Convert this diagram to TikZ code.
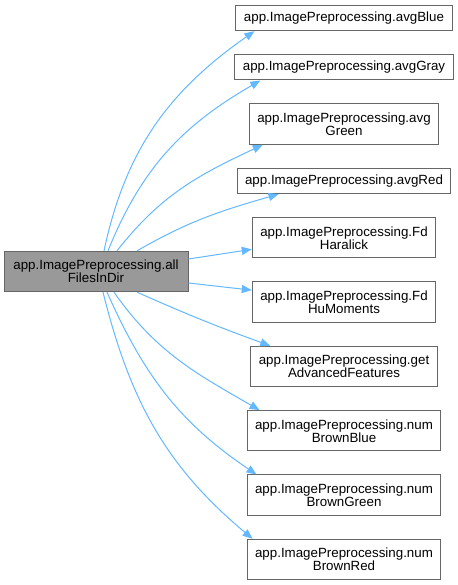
\documentclass[tikz,border=0pt]{standalone}
\usepackage{fontspec}
\setmainfont{Liberation Sans}
\usepackage{xcolor}
\usepackage{tikz}
\usetikzlibrary{positioning,arrows.meta,calc}

\definecolor{edgeblue}{HTML}{63B8FF}
\definecolor{boxline}{HTML}{666666}
\definecolor{curfill}{HTML}{999999}

\begin{document}
\begin{tikzpicture}[
      x=0.75pt, y=0.75pt,
      node distance=17.25pt,
      box/.style={rectangle, draw=boxline, fill=white, line width=0.75pt, align=center, inner xsep=6pt, inner ysep=2pt, minimum height=19pt, font=\fontsize{10}{9.75}\selectfont},
      twoline/.style={box, minimum height=30.25pt},
      arrow/.style={-{Triangle[length=7.5pt,width=6pt]}, draw=edgeblue, fill=none, line width=0.75pt}
  ]
  \useasboundingbox (0,0) rectangle (457,585);
  % Nodes
  \node[twoline, fill=curfill, minimum width=138pt] (alldir) at (96,313.5) {app.ImagePreprocessing.all\\FilesInDir};
  \node[box] (blue) at (344,567) {app.ImagePreprocessing.avgBlue};
  \node[box, below=of blue] (gray) {app.ImagePreprocessing.avgGray};
  \node[twoline, below=of gray] (green) {app.ImagePreprocessing.avg\\Green};
  \node[box, below=of green] (red) {app.ImagePreprocessing.avgRed};
  \node[twoline, below=of red] (haralick) {app.ImagePreprocessing.Fd\\Haralick};
  \node[twoline, below=of haralick] (humom) {app.ImagePreprocessing.Fd\\HuMoments};
  \node[twoline, below=of humom] (advfeat) {app.ImagePreprocessing.get\\AdvancedFeatures};
  \node[twoline, below=of advfeat] (nbblue) {app.ImagePreprocessing.num\\BrownBlue};
  \node[twoline, below=of nbblue] (nbgreen) {app.ImagePreprocessing.num\\BrownGreen};
  \node[twoline, below=of nbgreen] (nbred) {app.ImagePreprocessing.num\\BrownRed};
  % Arrows
  \draw[arrow] ($(alldir.north)+(8,0)$) to[out=78, in=215] ($(blue.south west)+(19,0)$);
  \draw[arrow] ($(alldir.north)+(12,0)$) to[out=68, in=210] ($(gray.south west)+(26,0)$);
  \draw[arrow] ($(alldir.north)+(21,0)$) to[out=52, in=205] ($(green.south west)+(14,0)$);
  \draw[arrow] ($(alldir.north)+(41,0)$) to[out=30, in=196] ($(red.south west)+(42,0)$);
  \draw[arrow] ($(alldir.east)+(0,12.5)$) -- ($(haralick.west)+(0,-11.5)$);
  \draw[arrow] ($(alldir.east)+(0,-11.5)$) -- ($(humom.west)+(0,12)$);
  \draw[arrow] ($(alldir.south)+(41,0)$) to[out=-24, in=160] ($(advfeat.north west)+(20,0)$);
  \draw[arrow] ($(alldir.south)+(18,0)$) to[out=-55, in=150] ($(nbblue.north west)+(13,0)$);
  \draw[arrow] ($(alldir.south)+(11,0)$) to[out=-66, in=146] ($(nbgreen.north west)+(10,0)$);
  \draw[arrow] ($(alldir.south)+(7,0)$) to[out=-76, in=140] ($(nbred.north west)+(6,0)$);
\end{tikzpicture}
\end{document}
